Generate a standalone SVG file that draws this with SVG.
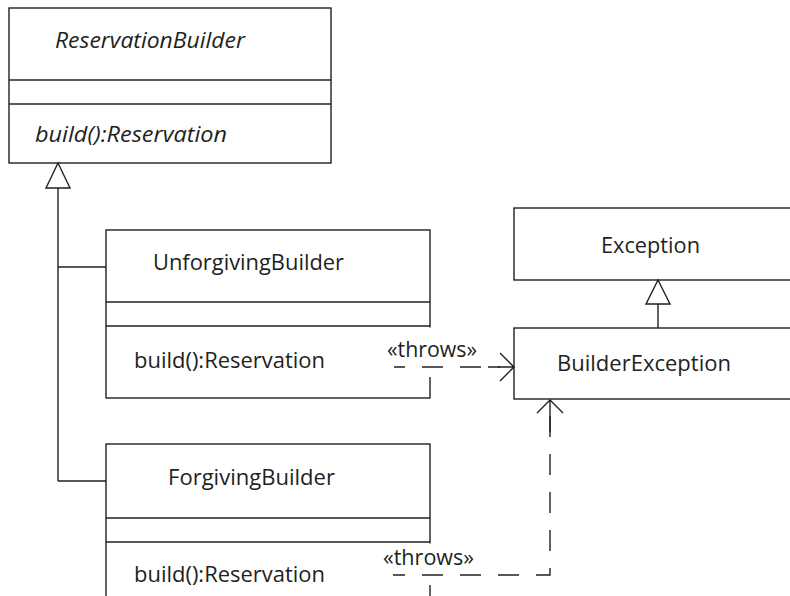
<svg xmlns="http://www.w3.org/2000/svg" width="790" height="596" viewBox="0 0 790 596">
<style>
.box{fill:#fff;stroke:#231f20;stroke-width:1.4}
.div{stroke:#231f20;stroke-width:1.6;fill:none}
.ln{stroke:#231f20;stroke-width:1.4;fill:none}
.dash{stroke:#231f20;stroke-width:1.4;fill:none;stroke-dasharray:21 17}
.hd{stroke:#231f20;stroke-width:1.4;fill:#fff}
.t{font-family:"Open Sans","DejaVu Sans",sans-serif;font-size:21px;fill:#231f20}
.i{font-style:italic}
.bg{fill:#fff;stroke:none}
</style>
<rect width="790" height="596" fill="#fff"/>
<g id="ReservationBuilder">
<rect class="box" x="9" y="8" width="322" height="155"/>
<line class="div" x1="9" y1="80" x2="331" y2="80"/>
<line class="div" x1="9" y1="104" x2="331" y2="104"/>
<text class="t i" x="55" y="48" textLength="190" lengthAdjust="spacingAndGlyphs">ReservationBuilder</text>
<text class="t i" x="35" y="142" textLength="192" lengthAdjust="spacingAndGlyphs">build():Reservation</text>
</g>
<g id="UnforgivingBuilder">
<rect class="box" x="106" y="230" width="324" height="168"/>
<line class="div" x1="106" y1="302" x2="430" y2="302"/>
<line class="div" x1="106" y1="326" x2="430" y2="326"/>
<text class="t" x="153" y="270" textLength="191" lengthAdjust="spacingAndGlyphs">UnforgivingBuilder</text>
<text class="t" x="134" y="368" textLength="191" lengthAdjust="spacingAndGlyphs">build():Reservation</text>
</g>
<g id="ForgivingBuilder">
<rect class="box" x="106" y="444" width="324" height="170"/>
<line class="div" x1="106" y1="518" x2="430" y2="518"/>
<line class="div" x1="106" y1="542" x2="430" y2="542"/>
<text class="t" x="168" y="485" textLength="167" lengthAdjust="spacingAndGlyphs">ForgivingBuilder</text>
<text class="t" x="134" y="582" textLength="191" lengthAdjust="spacingAndGlyphs">build():Reservation</text>
</g>
<g id="Exception">
<rect class="box" x="514" y="208" width="290" height="72"/>
<text class="t" x="601" y="253" textLength="99" lengthAdjust="spacingAndGlyphs">Exception</text>
</g>
<g id="BuilderException">
<rect class="box" x="514" y="328" width="290" height="71"/>
<text class="t" x="557" y="371" textLength="174" lengthAdjust="spacingAndGlyphs">BuilderException</text>
</g>
<g id="connectors">
<path class="ln" d="M58 188 V481 M58 267 H106 M58 481 H106"/>
<polygon class="hd" points="58,163 46,188 70,188"/>
<path class="ln" d="M658 304 V328"/>
<polygon class="hd" points="658,280 646,304 670,304"/>
<rect class="bg" x="382" y="327.5" width="97" height="49.5"/>
<path class="dash" style="stroke-dashoffset:10" d="M394 367 H500"/>
<path class="ln" d="M488 367 H514 M500 353 L514 367 L500 381"/>
<text class="t" x="387" y="357" textLength="90" lengthAdjust="spacingAndGlyphs">«throws»</text>
<rect class="bg" x="380" y="543.5" width="97" height="41.5"/>
<path class="dash" style="stroke-dashoffset:9" d="M393 575 H550 V413"/>
<path class="ln" d="M550 432 V400 M537 413 L550 400 L563 413"/>
<text class="t" x="383" y="565" textLength="91" lengthAdjust="spacingAndGlyphs">«throws»</text>
</g>
</svg>
